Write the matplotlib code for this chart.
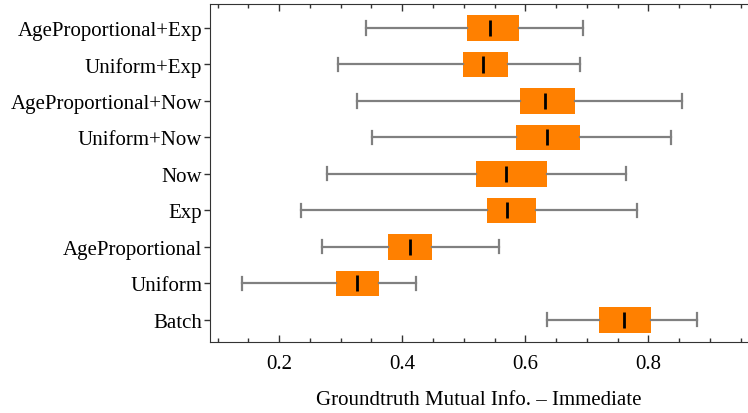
import numpy as np
import matplotlib.pyplot as plt
from matplotlib.ticker import MultipleLocator

plt.rcParams["font.family"] = ["Liberation Serif", "DejaVu Serif"]

# categories, bottom to top
labels = ["Batch", "Uniform", "AgeProportional", "Exp", "Now",
          "Uniform+Now", "AgeProportional+Now", "Uniform+Exp",
          "AgeProportional+Exp"]

# box stats
whisker_lo = [0.635, 0.140, 0.269, 0.236, 0.277, 0.351, 0.327, 0.296, 0.341]
q1 = [0.720, 0.292, 0.377, 0.538, 0.520, 0.585, 0.591, 0.498, 0.506]
median = [0.761, 0.327, 0.413, 0.571, 0.568, 0.635, 0.632, 0.532, 0.543]
q3 = [0.804, 0.363, 0.449, 0.617, 0.635, 0.689, 0.681, 0.572, 0.589]
whisker_hi = [0.879, 0.422, 0.558, 0.781, 0.764, 0.837, 0.854, 0.689, 0.694]

stats = []
for i, lab in enumerate(labels):
    stats.append(dict(label=lab, whislo=whisker_lo[i], q1=q1[i], med=median[i],
                      q3=q3[i], whishi=whisker_hi[i], fliers=[]))

fig = plt.figure(figsize=(7.48, 4.14), dpi=100)
ax = fig.add_axes([0.2807, 0.1722, 0.7193, 0.815])

pos = np.arange(len(labels))
bp = ax.bxp(stats, positions=pos, vert=False, widths=0.7,
            patch_artist=True, showfliers=False,
            boxprops=dict(facecolor="#ff8000", edgecolor="#ff8000", linewidth=0),
            medianprops=dict(color="black", linewidth=2),
            whiskerprops=dict(color="#808080", linewidth=1.6),
            capprops=dict(color="#808080", linewidth=1.6),
            capwidths=0.36)

# median marks are shorter than the box
for p, line in zip(pos, bp["medians"]):
    line.set_ydata([p - 0.22, p + 0.22])

ax.set_xlim(0.0875, 0.962)
ax.set_ylim(-0.6, 8.65)
ax.set_yticks(pos)
ax.set_yticklabels(labels, fontsize=15)

ax.xaxis.set_major_locator(MultipleLocator(0.2))
ax.xaxis.set_minor_locator(MultipleLocator(0.05))
ax.tick_params(axis="x", which="both", direction="in", top=True, bottom=True,
               labelsize=15, color="#333333", pad=9)
ax.tick_params(axis="x", which="major", length=5, width=1)
ax.tick_params(axis="x", which="minor", length=3, width=1)
ax.tick_params(axis="y", direction="out", length=4, width=1, color="#333333", pad=1.5)

for s in ["left", "top", "bottom"]:
    ax.spines[s].set_color("#333333")
ax.spines["right"].set_visible(False)

ax.set_xlabel("Groundtruth Mutual Info. \u2013 Immediate", fontsize=15, labelpad=12)

fig.savefig("out.png", dpi=100)
